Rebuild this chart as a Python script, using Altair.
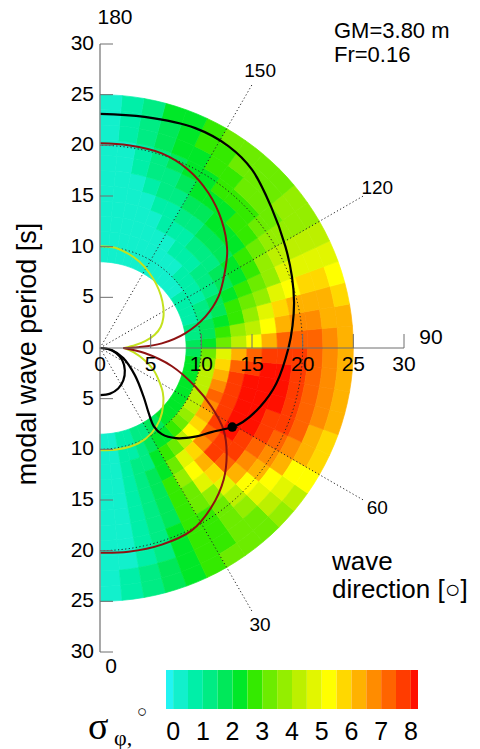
import altair as alt
import numpy as np
import pandas as pd

# ---------------- data ----------------
# heat map: wave direction bins (deg, 0 = following, 180 = head) x period bins (s)
theta_edges = list(range(0, 185, 5))
r_edges = [8.5, 10, 11.5, 13, 14.5, 16, 17.5, 19, 20.5, 22, 23.5, 25]
sigma = [
    [0.2, 0.2, 0.2, 0.2, 0.2, 0.2, 0.2, 0.3, 0.3, 0.3, 0.3],
    [0.3, 0.3, 0.3, 0.3, 0.3, 0.3, 0.4, 0.4, 0.4, 0.5, 0.5],
    [0.5, 0.5, 0.5, 0.6, 0.6, 0.7, 0.8, 0.8, 0.9, 1.0, 1.0],
    [0.8, 0.9, 1.0, 1.0, 1.1, 1.2, 1.3, 1.3, 1.4, 1.5, 1.6],
    [1.0, 1.2, 1.4, 1.6, 1.8, 1.8, 1.9, 2.0, 2.0, 2.1, 2.2],
    [1.2, 1.6, 2.0, 2.3, 2.6, 2.6, 2.5, 2.5, 2.5, 2.6, 2.7],
    [1.5, 2.0, 2.6, 3.2, 3.6, 3.4, 3.0, 2.8, 2.8, 2.9, 3.0],
    [1.8, 2.4, 3.4, 4.5, 5.0, 4.6, 3.8, 3.3, 3.1, 3.1, 3.2],
    [2.0, 2.8, 4.2, 5.6, 6.2, 5.8, 4.8, 4.0, 3.5, 3.4, 3.4],
    [2.2, 3.2, 5.0, 6.8, 7.6, 7.3, 6.4, 5.4, 4.5, 4.0, 3.8],
    [2.3, 3.6, 5.8, 7.3, 7.9, 7.6, 6.9, 6.0, 5.3, 4.7, 4.3],
    [2.4, 4.0, 6.4, 7.7, 8.0, 7.9, 7.4, 6.8, 6.0, 5.4, 5.0],
    [2.4, 4.2, 6.8, 7.9, 8.1, 8.0, 7.6, 7.2, 6.8, 6.0, 5.5],
    [2.4, 4.4, 7.0, 7.9, 8.1, 8.1, 7.9, 7.6, 7.0, 6.4, 5.9],
    [2.3, 4.2, 6.8, 7.8, 8.1, 8.1, 8.0, 7.8, 7.3, 6.7, 6.2],
    [2.2, 4.0, 6.4, 7.6, 8.0, 8.1, 8.0, 7.8, 7.4, 6.8, 6.3],
    [2.0, 3.6, 5.8, 7.2, 7.9, 8.0, 8.0, 7.8, 7.3, 6.8, 6.3],
    [1.8, 3.0, 4.8, 6.4, 7.4, 7.8, 7.9, 7.7, 7.2, 6.7, 6.3],
    [1.6, 2.2, 3.2, 4.2, 5.2, 6.2, 7.0, 7.3, 7.1, 6.6, 6.2],
    [1.3, 1.8, 2.6, 3.5, 4.4, 5.4, 6.3, 6.8, 6.8, 6.4, 6.0],
    [1.1, 1.5, 2.2, 2.9, 3.7, 4.6, 5.5, 6.1, 6.2, 6.0, 5.7],
    [0.9, 1.3, 1.9, 2.5, 3.0, 3.8, 4.7, 5.4, 5.6, 5.5, 5.3],
    [0.8, 1.1, 1.6, 2.1, 2.6, 3.2, 3.9, 4.5, 4.8, 4.8, 4.7],
    [0.6, 0.9, 1.4, 1.8, 2.3, 2.9, 3.5, 4.0, 4.3, 4.4, 4.3],
    [0.5, 0.8, 1.2, 1.6, 2.1, 2.5, 3.0, 3.5, 3.8, 3.9, 3.9],
    [0.4, 0.6, 1.0, 1.4, 1.9, 2.3, 2.7, 3.1, 3.4, 3.6, 3.6],
    [0.3, 0.5, 0.8, 1.2, 1.6, 2.1, 2.5, 2.9, 3.2, 3.3, 3.4],
    [0.3, 0.4, 0.7, 1.1, 1.5, 2.0, 2.4, 2.8, 3.0, 3.2, 3.3],
    [0.2, 0.3, 0.5, 0.9, 1.3, 1.8, 2.2, 2.6, 2.9, 3.1, 3.2],
    [0.2, 0.3, 0.4, 0.7, 1.1, 1.6, 2.0, 2.4, 2.7, 2.9, 3.0],
    [0.2, 0.2, 0.3, 0.5, 0.9, 1.3, 1.7, 2.1, 2.4, 2.6, 2.7],
    [0.2, 0.2, 0.3, 0.4, 0.6, 1.0, 1.4, 1.7, 2.0, 2.2, 2.3],
    [0.1, 0.2, 0.2, 0.3, 0.4, 0.7, 1.0, 1.3, 1.6, 1.8, 2.0],
    [0.1, 0.1, 0.2, 0.2, 0.3, 0.4, 0.6, 0.8, 1.0, 1.2, 1.4],
    [0.1, 0.1, 0.1, 0.2, 0.2, 0.3, 0.3, 0.4, 0.5, 0.6, 0.8],
    [0.1, 0.1, 0.1, 0.1, 0.2, 0.2, 0.2, 0.2, 0.3, 0.3, 0.4],
]

# curves (x, y) in seconds
yg_up_x = [0, 1.5, 2.8, 3.9, 4.8, 5.5, 6.0, 6.25, 6.25, 6.0, 5.4, 4.5, 3.5, 2.4]
yg_up_y = [10.05, 9.9, 9.3, 8.5, 7.5, 6.4, 5.2, 4.0, 3.0, 2.1, 1.3, 0.7, 0.3, 0.0]
yg_lo_x = [2.4, 3.3, 4.4, 5.3, 5.8, 6.2, 6.25, 5.9, 5.1, 3.8, 1.8, 0]
yg_lo_y = [0.0, -0.4, -1.2, -2.2, -3.2, -4.4, -5.5, -7.1, -8.4, -9.4, -10.0, -10.1]
red_up_x = [0, 2.8, 6.1, 8.7, 10.7, 12.0, 12.55, 12.3, 11.7, 10.4, 8.4, 6.1, 3.8, 2.3]
red_up_y = [20.2, 20.0, 19.2, 17.6, 15.3, 12.6, 9.7, 7.4, 5.1, 3.1, 1.45, 0.46, 0.08, 0.0]
red_lo_x = [2.3, 4.4, 7.1, 9.4, 11.0, 12.2, 12.5, 12.2, 11.0, 9.05, 6.1, 2.8, 0]
red_lo_y = [0.0, -0.5, -1.8, -3.8, -5.8, -8.1, -10.4, -13.0, -15.7, -18.0, -19.4, -20.1, -20.2]
blk_x = [0, 4.4, 9.4, 12.7, 15.0, 16.9, 18.3, 18.95, 19.15, 19.0, 18.6, 17.4, 15.8, 14.1,
         13.05, 11.0, 9.4, 7.5, 6.1, 5.3, 4.8, 4.3, 3.45, 2.3, 1.15, 0]
blk_y = [23.1, 22.8, 21.7, 19.9, 17.6, 13.9, 10.0, 7.0, 4.5, 2.2, 0, -3.5, -5.8, -7.3,
         -7.8, -8.3, -8.75, -8.9, -8.5, -7.7, -6.4, -4.8, -2.7, -1.0, -0.2, 0]
sml_x = [0, 0.8, 1.6, 2.2, 2.45, 2.3, 1.8, 1.0, 0]
sml_y = [0, -0.1, -0.5, -1.2, -2.2, -3.2, -4.0, -4.5, -4.65]
dot_x = [13.05]
dot_y = [-7.8]

# axes / grid / labels
period_ticks = [5, 10, 15, 20, 25, 30]
grid_r = [10, 20]
grid_dirs = [30, 60, 120, 150]
cbar_ticks = [0, 1, 2, 3, 4, 5, 6, 7, 8]
cbar_edges = [-0.24, 0, 0.5, 1, 1.5, 2, 2.5, 3, 3.5, 4, 4.5, 5, 5.5, 6, 6.5, 7, 7.5, 8, 8.24]
levels = [0, 0.5, 1, 1.5, 2, 2.5, 3, 3.5, 4, 4.5, 5, 5.5, 6, 6.5, 7, 7.5, 8]
colors = ["#22f4f2", "#12f0cc", "#00efa8", "#00ec84", "#00e85a", "#00e828",
          "#34ea00", "#6cec00", "#94ee00", "#bcf000", "#e2f600", "#ffff00",
          "#ffd800", "#ffb200", "#ff8c00", "#ff6400", "#ff3c00", "#ff1000"]

# ---------------- geometry ----------------
K = 304 / 30.0
CX, CY = 100, 348
W, H = 480, 749
FONT = "Liberation Sans"

XS = alt.Scale(domain=[-CX / K, (W - CX) / K], nice=False, zero=False)
YS = alt.Scale(domain=[-(H - CY) / K, CY / K], nice=False, zero=False)
TH = alt.Scale(domain=[0, 360], range=[0, 2 * np.pi])
RS = alt.Scale(type="linear", domain=[0, 30], range=[0, 30 * K], zero=True)
CS = alt.Scale(type="threshold", domain=levels, range=colors)
CB = alt.Scale(domain=[cbar_edges[0], cbar_edges[-1]], range=[166, 418], nice=False, zero=False)

rows = []
for i in range(len(theta_edges) - 1):
    for j in range(len(r_edges) - 1):
        rows.append(dict(a0=180 - theta_edges[i + 1], a1=180 - theta_edges[i],
                         r0=r_edges[j], r1=r_edges[j + 1], v=sigma[i][j]))
heat_df = pd.DataFrame(rows)

heat = alt.Chart(heat_df).mark_arc(strokeWidth=0.7).encode(
    theta=alt.Theta("a0:Q", scale=TH, stack=False),
    theta2="a1:Q",
    radius=alt.Radius("r1:Q", scale=RS),
    radius2="r0:Q",
    color=alt.Color("v:Q", scale=CS, legend=None),
    stroke=alt.Stroke("v:Q", scale=CS, legend=None),
    x=alt.value(CX), y=alt.value(CY),
)

# dotted grid circles
gc = []
ang = np.linspace(0, 180, 181)
for r in grid_r:
    for k, a in enumerate(ang):
        gc.append(dict(g=r, k=k, x=r * np.sin(np.radians(a)), y=-r * np.cos(np.radians(a))))
grid_circ = alt.Chart(pd.DataFrame(gc)).mark_line(
    color="#222222", strokeWidth=1, strokeDash=[1.2, 2.4]
).encode(x=alt.X("x:Q", scale=XS, axis=None), y=alt.Y("y:Q", scale=YS, axis=None),
         detail="g:N", order="k:Q")

gl = []
for d in grid_dirs:
    for k, r in enumerate([0, 30]):
        gl.append(dict(g=d, k=k, x=r * np.sin(np.radians(d)), y=-r * np.cos(np.radians(d))))
grid_lines = alt.Chart(pd.DataFrame(gl)).mark_line(
    color="#222222", strokeWidth=1, strokeDash=[1.2, 2.4]
).encode(x=alt.X("x:Q", scale=XS), y=alt.Y("y:Q", scale=YS), detail="g:N", order="k:Q")


def curve(xs, ys, color, width):
    df = pd.DataFrame({"x": xs, "y": ys, "k": range(len(xs))})
    return alt.Chart(df).mark_line(color=color, strokeWidth=width, interpolate="catmull-rom").encode(
        x=alt.X("x:Q", scale=XS), y=alt.Y("y:Q", scale=YS), order="k:Q")


curves = [
    curve(yg_up_x, yg_up_y, "#c4e21e", 2),
    curve(yg_lo_x, yg_lo_y, "#c4e21e", 2),
    curve(red_up_x, red_up_y, "#8e1212", 2),
    curve(red_lo_x, red_lo_y, "#8e1212", 2),
    curve(blk_x, blk_y, "#000000", 2.2),
    curve(sml_x, sml_y, "#000000", 2.2),
]
dot = alt.Chart(pd.DataFrame({"x": dot_x, "y": dot_y})).mark_point(
    filled=True, color="black", size=90, opacity=1
).encode(x=alt.X("x:Q", scale=XS), y=alt.Y("y:Q", scale=YS))

# axes
vax = alt.Chart(pd.DataFrame({"x": [0], "y": [-30], "y2": [30]})).mark_rule(
    color="#8c8c8c", strokeWidth=1.5).encode(x=alt.X("x:Q", scale=XS), y=alt.Y("y:Q", scale=YS), y2="y2:Q")
hax = alt.Chart(pd.DataFrame({"x": [0], "x2": [30], "y": [0]})).mark_rule(
    color="#6e6e6e", strokeWidth=1).encode(x=alt.X("x:Q", scale=XS), x2="x2:Q", y=alt.Y("y:Q", scale=YS))
vt_vals = [-t for t in period_ticks] + period_ticks
vticks = alt.Chart(pd.DataFrame({"x": [0] * len(vt_vals), "y": vt_vals})).mark_rule(
    color="#6e6e6e", strokeWidth=1).encode(x=alt.X("x:Q", scale=XS), x2=alt.value(CX + 13), y=alt.Y("y:Q", scale=YS))
hticks = alt.Chart(pd.DataFrame({"x": period_ticks, "y": [0] * len(period_ticks)})).mark_rule(
    color="#6e6e6e", strokeWidth=1).encode(x=alt.X("x:Q", scale=XS), y=alt.Y("y:Q", scale=YS), y2=alt.value(CY - 14))

vl_vals = sorted(vt_vals + [0])
vlab = alt.Chart(pd.DataFrame({"y": vl_vals, "t": [str(abs(v)) for v in vl_vals]})).mark_text(
    align="right", baseline="middle", fontSize=21, font=FONT, color="black"
).encode(x=alt.value(94), y=alt.Y("y:Q", scale=YS), text="t:N")
hl_vals = [0] + period_ticks
hlab = alt.Chart(pd.DataFrame({"x": hl_vals, "t": [str(v) for v in hl_vals]})).mark_text(
    align="center", baseline="middle", fontSize=21, font=FONT, color="black"
).encode(x=alt.X("x:Q", scale=XS), y=alt.value(365), text="t:N")

LR = 31.6
dlab = alt.Chart(pd.DataFrame({
    "x": [LR * np.sin(np.radians(d)) for d in grid_dirs],
    "y": [-LR * np.cos(np.radians(d)) for d in grid_dirs],
    "t": [str(d) for d in grid_dirs]})).mark_text(
    align="center", baseline="middle", fontSize=19, font=FONT, color="black"
).encode(x=alt.X("x:Q", scale=XS), y=alt.Y("y:Q", scale=YS), text="t:N")


def ptext(txt, x, y, size, align="left", angle=0, font=FONT, baseline="middle", lh=None):
    kw = dict(align=align, baseline=baseline, fontSize=size, font=font, color="black", text=txt)
    if angle:
        kw["angle"] = angle
    if lh:
        kw["lineHeight"] = lh
    return alt.Chart(pd.DataFrame({"a": [0]})).mark_text(**kw).encode(x=alt.value(x), y=alt.value(y))


texts = [
    ptext("180", 115, 18, 21, "center"),
    ptext("90", 431, 338, 21, "center"),
    ptext("0", 111, 667, 21, "center"),
    ptext(["GM=3.80 m", "Fr=0.16"], 334, 38, 22, baseline="alphabetic", lh=24),
    ptext(["wave", "direction [○]"], 332, 570, 26, baseline="alphabetic", lh=28),
    ptext("modal wave period [s]", 28, 354, 27, "center", angle=270),
    ptext("σ", 88, 728, 38, font="Liberation Serif"),
    ptext("φ,", 114, 738, 22, font="Liberation Serif"),
    ptext("○", 137, 712, 17),
]

polar = alt.layer(heat, grid_circ, grid_lines, *curves, dot, vax, hax, vticks, hticks,
                  vlab, hlab, dlab, *texts)

cb_df = pd.DataFrame({"lo": cbar_edges[:-1], "hi": cbar_edges[1:]})
cb_df["mid"] = (cb_df["lo"] + cb_df["hi"]) / 2
cbar = alt.Chart(cb_df).mark_rect(strokeWidth=0).encode(
    x=alt.X("lo:Q", scale=CB, axis=None), x2="hi:Q",
    y=alt.value(670), y2=alt.value(709),
    color=alt.Color("mid:Q", scale=CS, legend=None))
cblab = alt.Chart(pd.DataFrame({"v": cbar_ticks, "t": [str(v) for v in cbar_ticks]})).mark_text(
    align="center", baseline="middle", fontSize=25, font=FONT, color="black"
).encode(x=alt.X("v:Q", scale=CB), y=alt.value(732), text="t:N")
cb_layer = alt.layer(cbar, cblab)

chart = alt.layer(polar, cb_layer).resolve_scale(x="independent").properties(
    width=W, height=H, padding=0, autosize="none", background="white"
).configure_view(stroke=None)

chart.save("out.html", embed_options={"renderer": "svg", "actions": False})
